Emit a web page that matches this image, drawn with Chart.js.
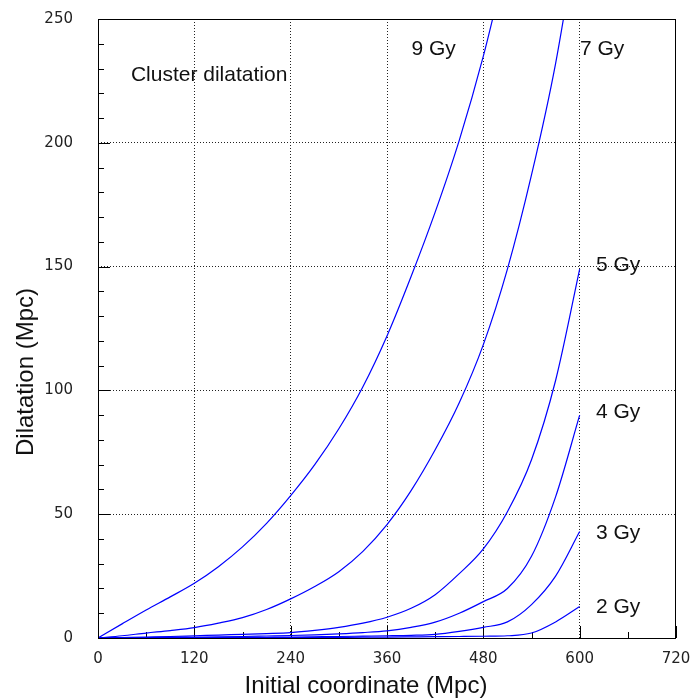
<!DOCTYPE html>
<html>
<head>
<meta charset="utf-8">
<title>Cluster dilatation</title>
<script src="https://cdn.jsdelivr.net/npm/chart.js@4/dist/chart.umd.min.js"></script>
<style>
  html, body { margin: 0; padding: 0; background: #fff; }
  #wrap { width: 691px; height: 700px; }
</style>
</head>
<body>
<div id="wrap"><canvas id="chart" width="691" height="700"></canvas></div>
<script>
// initial coordinate (Mpc), sampled every 30
const coords = [0, 30, 60, 90, 120, 150, 180, 210, 240, 270, 300, 330, 360, 390, 420, 450, 480, 510, 540, 570, 600]

// dilatation (Mpc) per age
const gy9 = [0, 5.7, 11.3, 16.6, 22.1, 28.8, 36.8, 46.3, 57.5, 70, 84.5, 101.5, 122, 146, 172, 201, 235, 275]
const gy7 = [0, 0.9, 2, 3, 4.2, 6, 8.2, 11.5, 15.8, 20.8, 26.8, 35, 45.8, 59.5, 76, 95, 118.5, 149, 187, 232, 290]
const gy5 = [0, 0.2, 0.4, 0.6, 0.9, 1.2, 1.5, 1.8, 2.2, 3.1, 4.3, 6, 8.4, 12, 17.5, 26, 36, 51, 72, 104, 149]
const gy4 = [0, 0.08, 0.15, 0.25, 0.35, 0.45, 0.6, 0.8, 1.0, 1.3, 1.7, 2.2, 2.9, 4.3, 6.4, 10, 14.7, 20, 33, 57, 90]
const gy3 = [0, 0.03, 0.06, 0.1, 0.14, 0.18, 0.24, 0.3, 0.4, 0.5, 0.6, 0.75, 0.9, 1.1, 1.5, 2.7, 4.3, 6.5, 13.5, 25, 43]
const gy2 = [0, 0.01, 0.03, 0.05, 0.07, 0.09, 0.12, 0.15, 0.18, 0.22, 0.27, 0.32, 0.38, 0.45, 0.52, 0.6, 0.7, 0.9, 2.0, 6.5, 12.7]

const xTicks = [0, 120, 240, 360, 480, 600, 720]
const yTicks = [0, 50, 100, 150, 200, 250]

// curve labels: [text, x, y] in data units
const curveLabels = [
  ['9 Gy', 418, 238],
  ['7 Gy', 628, 238],
  ['5 Gy', 648, 150.5],
  ['4 Gy', 648, 91],
  ['3 Gy', 648, 42.5],
  ['2 Gy', 648, 12.5],
]

const toPoints = (vals) => vals.map((v, i) => ({ x: coords[i], y: v }))

const series = [gy9, gy7, gy5, gy4, gy3, gy2]

const decorations = {
  id: 'decorations',
  beforeDatasetsDraw(chart) {
    const { ctx, chartArea: a, scales: { x, y } } = chart
    ctx.save()
    ctx.strokeStyle = '#000'
    ctx.lineWidth = 1
    ctx.beginPath()
    // inner ticks on the left axis
    for (let v = 0; v <= 250; v += 10) {
      const py = Math.round(y.getPixelForValue(v)) + 0.5
      const len = v % 50 === 0 ? 12 : 6
      ctx.moveTo(a.left, py)
      ctx.lineTo(a.left + len, py)
    }
    // inner ticks on the bottom axis
    for (let v = 0; v <= 720; v += 60) {
      const px = Math.round(x.getPixelForValue(v)) + 0.5
      const len = v % 120 === 0 ? 12 : 6
      ctx.moveTo(px, a.bottom)
      ctx.lineTo(px, a.bottom - len)
    }
    ctx.stroke()
    ctx.restore()
  },
  afterDraw(chart) {
    const { ctx, chartArea: a, scales: { x, y } } = chart
    ctx.save()
    ctx.strokeStyle = '#000'
    ctx.lineWidth = 1
    ctx.strokeRect(Math.round(a.left) + 0.5, Math.round(a.top) + 0.5,
      Math.round(a.right - a.left) - 1, Math.round(a.bottom - a.top))

    ctx.fillStyle = '#111'
    ctx.font = '21px "Liberation Sans", Arial, sans-serif'
    ctx.textBaseline = 'middle'
    ctx.textAlign = 'center'
    curveLabels.forEach(([t, vx, vy]) => {
      ctx.fillText(t, x.getPixelForValue(vx), y.getPixelForValue(vy))
    })
    ctx.textAlign = 'left'
    ctx.fillText('Cluster dilatation', x.getPixelForValue(41), y.getPixelForValue(227.5))

    // axis titles
    ctx.font = '24px "Liberation Sans", Arial, sans-serif'
    ctx.textAlign = 'center'
    ctx.fillText('Initial coordinate (Mpc)', a.left + 268, a.bottom + 48)
    ctx.translate(26, a.top + 353)
    ctx.rotate(-Math.PI / 2)
    ctx.fillText('Dilatation (Mpc)', 0, 0)
    ctx.restore()
  }
}

const gridColor = (ctx, last) => {
  const v = ctx.tick ? ctx.tick.value : 0
  return (v === 0 || v === last) ? 'rgba(0,0,0,0)' : '#222'
}

// fixed axis box, no extra room for overhanging end labels
const fixBox = (w, h) => (s) => {
  if (w) s.width = w
  if (h) s.height = h
  s.paddingTop = 0
  s.paddingBottom = 0
  s.paddingLeft = 0
  s.paddingRight = 0
}

new Chart(document.getElementById('chart'), {
  type: 'line',
  data: {
    datasets: series.map((vals) => ({
      data: toPoints(vals),
      borderColor: '#0000ff',
      borderWidth: 1.2,
      pointRadius: 0,
      cubicInterpolationMode: 'monotone',
      fill: false,
    })),
  },
  options: {
    responsive: false,
    animation: false,
    layout: { padding: { top: 19, right: 15, left: 0, bottom: 0 } },
    plugins: {
      legend: { display: false },
      tooltip: { enabled: false },
    },
    scales: {
      x: {
        type: 'linear',
        min: 0,
        max: 720,
        afterFit: fixBox(0, 62),
        afterBuildTicks: (s) => { s.ticks = xTicks.map((v) => ({ value: v })) },
        grid: {
          drawTicks: false,
          lineWidth: 1,
          color: (c) => gridColor(c, 720),
        },
        border: { display: false, dash: [1, 2] },
        ticks: {
          padding: 12,
          color: '#222',
          font: { family: '"DejaVu Sans", sans-serif', size: 15 },
          maxRotation: 0,
        },
      },
      y: {
        type: 'linear',
        min: 0,
        max: 250,
        afterFit: fixBox(98, 0),
        afterBuildTicks: (s) => { s.ticks = yTicks.map((v) => ({ value: v })) },
        grid: {
          drawTicks: false,
          lineWidth: 1,
          color: (c) => gridColor(c, 250),
        },
        border: { display: false, dash: [1, 2] },
        ticks: {
          padding: 25,
          color: '#222',
          font: { family: '"DejaVu Sans", sans-serif', size: 15 },
        },
      },
    },
  },
  plugins: [decorations],
})
</script>
</body>
</html>
